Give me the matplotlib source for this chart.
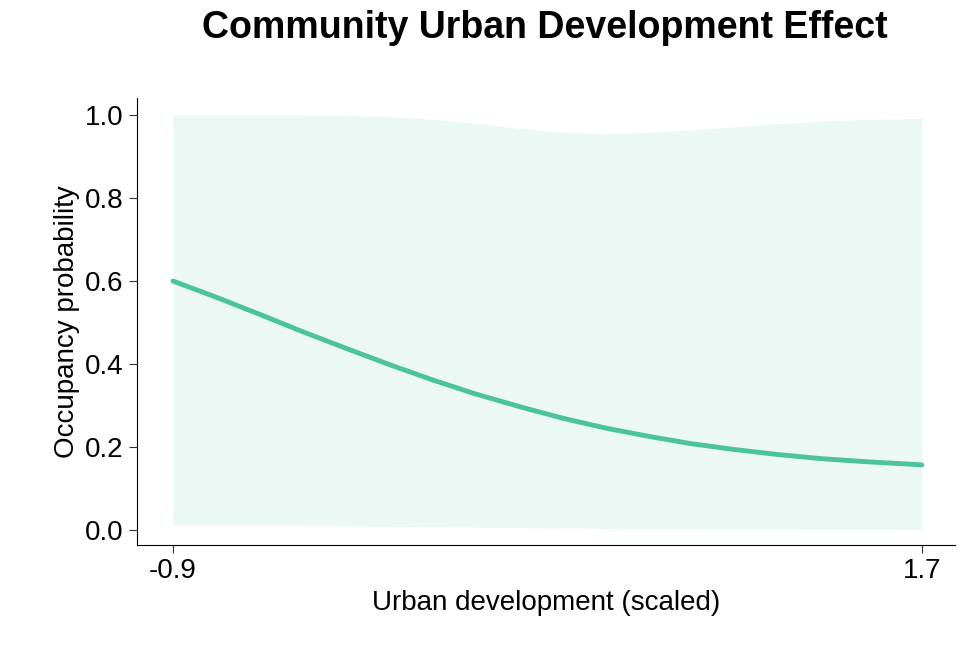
import numpy as np
from matplotlib import pyplot as plt

plt.rcParams['font.family'] = ['Liberation Sans', 'DejaVu Sans']

# values
urban = [-0.9, -0.75, -0.6, -0.45, -0.3, -0.15, 0.0, 0.15, 0.3, 0.45, 0.6,
         0.75, 0.9, 1.05, 1.2, 1.35, 1.5, 1.7]
occ = [0.600, 0.561, 0.520, 0.478, 0.438, 0.399, 0.362, 0.328, 0.298, 0.270,
       0.246, 0.226, 0.208, 0.194, 0.182, 0.172, 0.165, 0.157]
upper = [1.0, 1.0, 1.0, 1.0, 0.999, 0.996, 0.990, 0.980, 0.968, 0.958,
         0.955, 0.958, 0.964, 0.972, 0.979, 0.985, 0.989, 0.992]
lower = [0.012, 0.012, 0.011, 0.011, 0.010, 0.009, 0.008, 0.007, 0.006,
         0.005, 0.004, 0.003, 0.003, 0.002, 0.002, 0.001, 0.001, 0.001]

fig = plt.figure(figsize=(9.75, 6.45), dpi=100)
ax = fig.add_axes([137/975, 100/645, 818/975, 447/645])

ax.fill_between(urban, lower, upper, color='#ecf8f3', linewidth=0)
ax.plot(urban, occ, color='#4cc39f', linewidth=3.5, solid_capstyle='round')

ax.set_xlim(-1.025, 1.815)
ax.set_ylim(-0.036, 1.041)
ax.set_xticks([-0.9, 1.7])
ax.set_xticklabels(['-0.9', '1.7'])
ax.set_yticks([0, 0.2, 0.4, 0.6, 0.8, 1.0])
ax.set_yticklabels(['0.0', '0.2', '0.4', '0.6', '0.8', '1.0'])
ax.tick_params(labelsize=20, length=6, color='#333333')
for s in ['top', 'right']:
    ax.spines[s].set_visible(False)
ax.set_xlabel('Urban development (scaled)', fontsize=20)
ax.set_ylabel('Occupancy probability', fontsize=20)
fig.text(545/975, 1 - 28/645, 'Community Urban Development Effect',
         ha='center', va='center', fontsize=27, fontweight='bold')

plt.savefig('out.png')
